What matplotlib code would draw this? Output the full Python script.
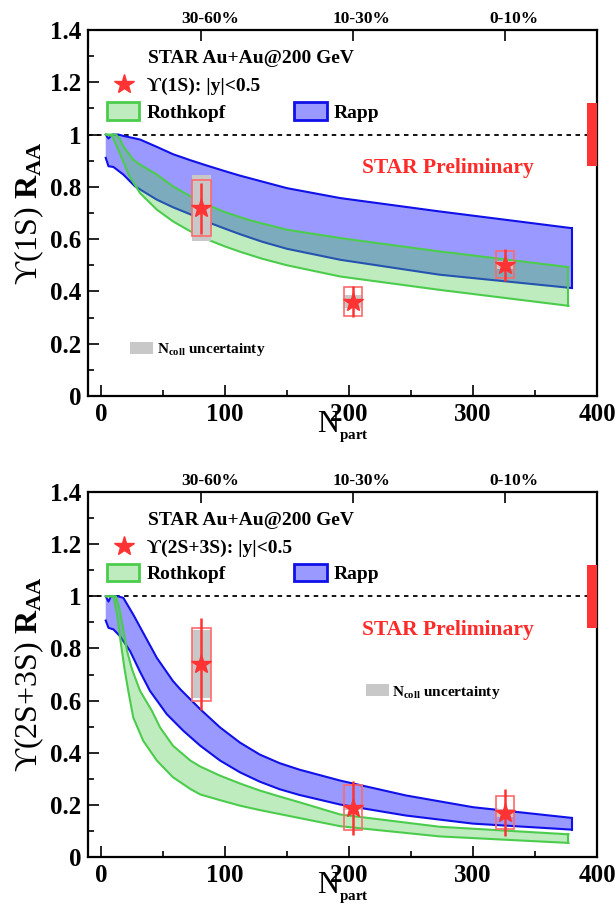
import numpy as np
import matplotlib
matplotlib.use('Agg')
import matplotlib.pyplot as plt
from matplotlib.patches import Rectangle, Patch
from matplotlib.lines import Line2D
from matplotlib.ticker import MultipleLocator, FuncFormatter
import matplotlib.transforms as mtransforms

plt.rcParams['font.family'] = ['Liberation Serif', 'DejaVu Serif']
plt.rcParams['font.weight'] = 'bold'
plt.rcParams['mathtext.fontset'] = 'custom'
plt.rcParams['mathtext.rm'] = 'Liberation Serif:bold'
plt.rcParams['mathtext.it'] = 'Liberation Serif:bold'
plt.rcParams['mathtext.bf'] = 'Liberation Serif:bold'

# ---------------- data ----------------
npart = [81, 203, 326]
cent_labels = ['30-60%', '10-30%', '0-10%']

# Upsilon(1S)
raa_1s = [0.718, 0.361, 0.502]
stat_1s = [0.097, 0.058, 0.062]
sys_1s = [0.107, 0.056, 0.052]
ncoll_1s = [0.126, 0.025, 0.016]

# Upsilon(2S+3S)
raa_23s = [0.739, 0.189, 0.170]
stat_23s = [0.177, 0.104, 0.091]
sys_23s = [0.140, 0.086, 0.063]
ncoll_23s = [0.130, 0.010, 0.015]

# global uncertainty
glob_center = 1.0
glob_err = 0.12

# Rapp band, 1S
rapp1_x_up = [3.8, 6, 9, 14, 18, 31.5, 45, 58, 72, 85, 100, 112, 150, 193, 273, 379.6]
rapp1_up = [1.0, 0.985, 1.0, 1.0, 0.995, 0.981, 0.953, 0.925, 0.902, 0.882, 0.86, 0.843, 0.795,
            0.757, 0.706, 0.642]
rapp1_x_lo = [3.8, 6, 10, 18, 27.4, 45, 58, 72, 85, 100, 112, 130, 150, 193, 273, 379.6]
rapp1_lo = [0.911, 0.879, 0.876, 0.847, 0.802, 0.751, 0.722, 0.695, 0.667, 0.640, 0.619, 0.590,
            0.563, 0.521, 0.464, 0.413]

# Rothkopf band, 1S
roth1_x_up = [4, 12, 15, 18, 26, 31.5, 45, 58, 72, 85, 100, 120, 150, 193, 273, 377]
roth1_up = [1.0, 1.0, 0.985, 0.955, 0.904, 0.885, 0.847, 0.802, 0.764, 0.733, 0.703, 0.672, 0.636,
            0.604, 0.553, 0.493]
roth1_x_lo = [4, 9, 15, 23, 31.5, 45, 58, 72, 85, 100, 112, 130, 150, 193, 273, 377]
roth1_lo = [1.0, 0.995, 0.93, 0.84, 0.776, 0.713, 0.668, 0.630, 0.600, 0.572, 0.552, 0.525, 0.500,
            0.457, 0.406, 0.345]

# Rapp band, 2S+3S
rapp2_x_up = [3.8, 6, 8, 13.6, 18, 26, 34, 45, 58, 64, 80, 96, 112, 128, 144, 160, 193, 246, 300, 379.6]
rapp2_up = [1.0, 0.98, 1.0, 1.0, 0.994, 0.93, 0.86, 0.764, 0.675, 0.643, 0.567, 0.497, 0.439, 0.393,
            0.360, 0.335, 0.293, 0.236, 0.191, 0.150]
rapp2_x_lo = [3.8, 6, 10, 15.3, 23.4, 31.5, 39.5, 53, 66.4, 80, 96, 112, 128, 144, 160, 193, 246, 300, 379.6]
rapp2_lo = [0.907, 0.879, 0.873, 0.847, 0.79, 0.71, 0.637, 0.548, 0.484, 0.427, 0.37, 0.325, 0.289,
            0.260, 0.238, 0.201, 0.159, 0.128, 0.105]

# Rothkopf band, 2S+3S
roth2_x_up = [4, 12, 15, 18, 21, 25, 31.5, 41, 47.6, 58, 72, 80, 96, 112, 128, 144, 160, 193, 273, 377]
roth2_up = [1.0, 1.0, 0.95, 0.87, 0.79, 0.72, 0.637, 0.561, 0.497, 0.427, 0.37, 0.347, 0.312, 0.282,
            0.255, 0.232, 0.21, 0.163, 0.116, 0.087]
roth2_x_lo = [4, 10, 13, 16, 19, 22, 26, 34, 45, 58, 72, 80, 96, 112, 128, 193, 273, 377]
roth2_lo = [1.0, 1.0, 0.93, 0.82, 0.72, 0.637, 0.535, 0.446, 0.37, 0.306, 0.261, 0.24, 0.218, 0.197,
            0.18, 0.118, 0.079, 0.054]

# ---------------- style ----------------
RED = '#ff3333'
BOX_RED = '#ff6a6a'
GRAY = '#c8c8c8'
BLUE_EDGE = '#1010e8'
BLUE_FACE = (0.0, 0.0, 1.0, 0.40)
GREEN_EDGE = '#4ccc4c'
GREEN_FACE = (76 / 255, 205 / 255, 76 / 255, 0.36)
BOX_HW = 7.3
GLOB_X0, GLOB_X1 = 392, 400

fig = plt.figure(figsize=(6.15, 9.08), dpi=100)
ax1 = fig.add_axes([88 / 615, 1 - 396 / 908, 509 / 615, 366 / 908])
ax2 = fig.add_axes([88 / 615, 1 - 857 / 908, 509 / 615, 365 / 908])


def draw_band(ax, xu, yu, xl, yl, face, edge, z):
    xs = np.concatenate([xu, xl[::-1]])
    ys = np.concatenate([yu, yl[::-1]])
    ax.fill(xs, ys, facecolor=face, edgecolor='none', zorder=z)
    ax.plot(xu, yu, color=edge, lw=1.5, zorder=z + 0.1)
    ax.plot(xl, yl, color=edge, lw=1.5, zorder=z + 0.1)
    ax.plot([xu[-1], xl[-1]], [yu[-1], yl[-1]], color=edge, lw=1.5, zorder=z + 0.1)


def panel(ax, raa, stat, sys, ncoll, band_rapp, band_roth, leglabel, ylabel, ncoll_pos):
    ax.set_xlim(-10.5, 400)
    ax.set_ylim(0, 1.4)
    draw_band(ax, *band_rapp, BLUE_FACE, BLUE_EDGE, 2)
    draw_band(ax, *band_roth, GREEN_FACE, GREEN_EDGE, 3)
    ax.axhline(1.0, color='k', lw=1.3, ls=(0, (2.5, 2.5)), zorder=1)
    for x, y, st, sy, nc in zip(npart, raa, stat, sys, ncoll):
        ax.add_patch(Rectangle((x - BOX_HW, y - nc), 2 * BOX_HW, 2 * nc, facecolor=GRAY,
                               edgecolor='none', zorder=5))
        ax.add_patch(Rectangle((x - BOX_HW, y - sy), 2 * BOX_HW, 2 * sy, facecolor='none',
                               edgecolor=BOX_RED, lw=1.2, zorder=6))
    ax.errorbar(npart, raa, yerr=stat, fmt='none', ecolor=RED, elinewidth=1.8, capsize=0, zorder=7)
    ax.plot(npart, raa, ls='none', marker='*', ms=15, color=RED, mec=RED, zorder=8)
    ax.add_patch(Rectangle((GLOB_X0, glob_center - glob_err), GLOB_X1 - GLOB_X0, 2 * glob_err,
                           facecolor=RED, edgecolor='none', zorder=4))

    ax.xaxis.set_major_locator(MultipleLocator(100))
    ax.xaxis.set_minor_locator(MultipleLocator(50))
    ax.yaxis.set_major_locator(MultipleLocator(0.2))
    ax.yaxis.set_minor_locator(MultipleLocator(0.1))
    ax.yaxis.set_major_formatter(FuncFormatter(lambda v, p: '%g' % round(v, 2)))
    ax.tick_params(which='both', direction='in', top=False, right=False, width=1.2)
    ax.tick_params(which='major', length=8, labelsize=18, pad=5)
    ax.tick_params(which='minor', length=4.5)
    for s in ax.spines.values():
        s.set_linewidth(1.6)

    ax.set_xlabel('N$_{{}_{\\mathrm{part}}}$', fontsize=22, va='top')
    ax.xaxis.set_label_coords(0.5, -0.037)
    ax.set_ylabel(ylabel, fontsize=23)
    ax.yaxis.set_label_coords(-0.083, 0.5)

    top = ax.twiny()
    top.set_xlim(ax.get_xlim())
    top.set_xticks(npart)
    top.set_xticklabels(cent_labels)
    top.tick_params(direction='in', length=8, width=1.2, labelsize=12.5, pad=2)
    off = mtransforms.ScaledTranslation(0.09, 0, fig.dpi_scale_trans)
    for lab in top.get_xticklabels():
        lab.set_transform(lab.get_transform() + off)
    for s in top.spines.values():
        s.set_visible(False)

    ax.text(0.118, 0.921, 'STAR Au+Au@200 GeV', transform=ax.transAxes, fontsize=14,
            va='center', ha='left', zorder=10)
    leg1 = ax.legend([Line2D([], [], ls='none', marker='*', ms=15, color=RED)], [leglabel],
                     loc='center left', bbox_to_anchor=(0.051, 0.847), frameon=False, borderpad=0,
                     borderaxespad=0, handlelength=1.0, handletextpad=0.72, fontsize=14)
    ax.add_artist(leg1)
    leg2 = ax.legend([Patch(facecolor=GREEN_FACE, edgecolor=GREEN_EDGE, lw=2),
                      Patch(facecolor=BLUE_FACE, edgecolor=BLUE_EDGE, lw=2)],
                     ['Rothkopf', 'Rapp'], ncol=2, loc='center left', bbox_to_anchor=(0.0367, 0.776),
                     frameon=False, borderpad=0, borderaxespad=0, handlelength=1.68,
                     handleheight=1.0, handletextpad=0.38, columnspacing=3.5, fontsize=14)
    ax.add_artist(leg2)
    ax.legend([Patch(facecolor=GRAY, edgecolor='none')], ['N$_{\\mathrm{coll}}$ uncertainty'],
              loc='center left', bbox_to_anchor=ncoll_pos, frameon=False, borderpad=0,
              borderaxespad=0, handlelength=1.48, handleheight=0.88, handletextpad=0.26, fontsize=11)
    ax.text(0.707, 0.623, 'STAR Preliminary', transform=ax.transAxes, fontsize=15.5,
            color='#ff2a2a', ha='center', va='center', zorder=10)


panel(ax1, raa_1s, stat_1s, sys_1s, ncoll_1s,
      (rapp1_x_up, rapp1_up, rapp1_x_lo, rapp1_lo),
      (roth1_x_up, roth1_up, roth1_x_lo, roth1_lo),
      '\u03d2(1S): |y|<0.5', '\u03d2(1S) $\\mathrm{R}_{\\mathrm{AA}}$', (0.0825, 0.126))
panel(ax2, raa_23s, stat_23s, sys_23s, ncoll_23s,
      (rapp2_x_up, rapp2_up, rapp2_x_lo, rapp2_lo),
      (roth2_x_up, roth2_up, roth2_x_lo, roth2_lo),
      '\u03d2(2S+3S): |y|<0.5', '\u03d2(2S+3S) $\\mathrm{R}_{\\mathrm{AA}}$', (0.546, 0.452))

fig.savefig('out.png', dpi=100)
